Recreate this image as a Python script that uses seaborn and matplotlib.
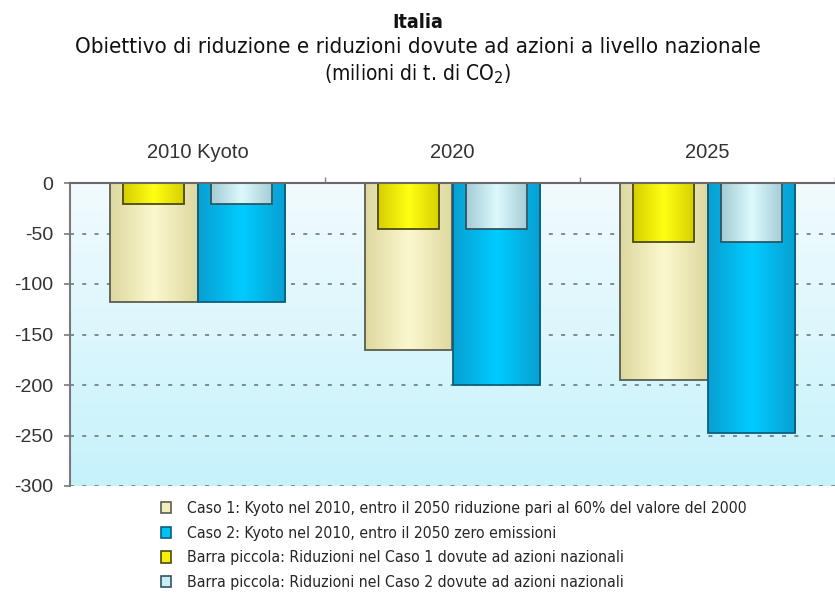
import numpy as np
import pandas as pd
import matplotlib
matplotlib.use("Agg")
import matplotlib.pyplot as plt
import seaborn as sns
from matplotlib.patches import Patch
from matplotlib.colors import LinearSegmentedColormap

categories = ["2010 Kyoto", "2020", "2025"]
caso1 = [-118, -165, -195]
caso2 = [-118, -200, -248]
piccola1 = [-21, -46, -58]
piccola2 = [-21, -46, -58]
yticks = [0, -50, -100, -150, -200, -250, -300]
legend_labels = [
    "Caso 1: Kyoto nel 2010, entro il 2050 riduzione pari al 60% del valore del 2000",
    "Caso 2: Kyoto nel 2010, entro il 2050 zero emissioni",
    "Barra piccola: Riduzioni nel Caso 1 dovute ad azioni nazionali",
    "Barra piccola: Riduzioni nel Caso 2 dovute ad azioni nazionali",
]

sns.set_theme(style="white")
plt.rcParams["font.family"] = ["DejaVu Sans"]

big = pd.DataFrame({
    "cat": categories * 2,
    "caso": ["Caso 1"] * 3 + ["Caso 2"] * 3,
    "val": caso1 + caso2,
})
small = pd.DataFrame({
    "cat": categories * 2,
    "caso": ["Caso 1"] * 3 + ["Caso 2"] * 3,
    "val": piccola1 + piccola2,
})

big_face = ["#f1edbd", "#02c2f2"]
small_face = ["#f4ef05", "#c9eef4"]
edges_big = ["#5c5c50", "#0c5f80"]
edges_small = ["#4d4a10", "#2d5563"]
grad_big = [["#ddd8a0", "#fbf8ce", "#ddd8a0"], ["#089fd2", "#00ccff", "#089fd2"]]
grad_small = [["#d6cf00", "#ffff14", "#d6cf00"], ["#a4cbd4", "#dcfafd", "#a4cbd4"]]

fig = plt.figure(figsize=(8.35, 5.95), dpi=100)
ax = fig.add_axes([70 / 835, 1 - 486 / 595, 765 / 835, 303 / 595])

# background gradient
grad = np.linspace(0, 1, 256).reshape(-1, 1)
bg_cmap = LinearSegmentedColormap.from_list("bg", ["#c6f2fb", "#f2fbfe"])
ax.imshow(grad, extent=[-0.5, 2.5, -300, 0], aspect="auto", cmap=bg_cmap,
          origin="lower", zorder=0)

for y in yticks[1:]:
    ax.axhline(y, color="#6d858d", lw=1.3, ls=(0, (2.2, 4.6)), zorder=1)

sns.barplot(data=big, x="cat", y="val", hue="caso", order=categories,
            palette=big_face, width=0.686, dodge=True, saturation=1,
            errorbar=None, ax=ax, legend=False, zorder=2)
n_big = len(ax.patches)
sns.barplot(data=small, x="cat", y="val", hue="caso", order=categories,
            palette=small_face, width=0.686, gap=0.3, dodge=True, saturation=1,
            errorbar=None, ax=ax, legend=False, zorder=4)

hgrad = np.linspace(0, 1, 256).reshape(1, -1)
for i, p in enumerate(list(ax.patches)):
    if i < n_big:
        k = i // 3
        edge, cols, z = edges_big[k], grad_big[k], 2
    else:
        k = (i - n_big) // 3
        edge, cols, z = edges_small[k], grad_small[k], 4
    p.set_edgecolor("none")
    p.set_zorder(z)
    x0, y0 = p.get_x(), p.get_y()
    w, h = p.get_width(), p.get_height()
    cm = LinearSegmentedColormap.from_list("g%d" % i, cols)
    im = ax.imshow(hgrad, extent=[x0, x0 + w, y0, y0 + h], aspect="auto",
                   cmap=cm, zorder=z + 0.5)
    im.set_clip_path(p)
    outline = plt.Rectangle((x0, y0), w, h, fill=False, edgecolor=edge,
                            lw=1.3, zorder=z + 0.8)
    ax.add_patch(outline)

ax.set_xlim(-0.5, 2.5)
ax.set_ylim(-300, 0)
ax.set_xlabel("")
ax.set_ylabel("")
ax.grid(False)

ax.xaxis.tick_top()
ax.set_xticks(range(3))
ax.set_xticklabels(categories, fontsize=14.5, color="#333333",
                   family="Liberation Sans")
ax.tick_params(axis="x", which="major", length=0, pad=15)
ax.set_xticks([0.5, 1.5, 2.5], minor=True)
ax.tick_params(axis="x", which="minor", length=4, color="#808080", top=True,
               bottom=False, direction="out")

ax.set_yticks(yticks)
ax.set_yticklabels([str(v) for v in yticks], fontsize=14, color="#333333",
                   family="Liberation Sans")
ax.tick_params(axis="y", length=4, color="#808080", left=True, direction="out",
               pad=8)

for s in ["right", "bottom"]:
    ax.spines[s].set_visible(False)
ax.spines["left"].set_color("#7a7a7a")
ax.spines["left"].set_linewidth(1.5)
ax.spines["top"].set_color("#6a6a6a")
ax.spines["top"].set_linewidth(1.5)
ax.spines["top"].set_zorder(6)

fig.text(0.5, 1 - 22 / 595, "Italia", ha="center", va="center",
         fontsize=14, fontweight="bold", color="#111111", fontstretch="condensed")
fig.text(0.5, 1 - 47 / 595,
         "Obiettivo di riduzione e riduzioni dovute ad azioni a livello nazionale",
         ha="center", va="center", fontsize=16, color="#111111",
         fontstretch="condensed")
fig.text(0.5, 1 - 74 / 595, "(milioni di t. di CO$_2$)", ha="center",
         va="center", fontsize=15, color="#111111", fontstretch="condensed")

handles = [
    Patch(facecolor=big_face[0], edgecolor=edges_big[0], lw=1.2),
    Patch(facecolor=big_face[1], edgecolor=edges_big[1], lw=1.2),
    Patch(facecolor=small_face[0], edgecolor=edges_small[0], lw=1.2),
    Patch(facecolor=small_face[1], edgecolor=edges_small[1], lw=1.2),
]
fig.legend(handles, legend_labels, loc="upper left",
           bbox_to_anchor=(161 / 835, 1 - 501 / 595), frameon=False,
           prop={"size": 11.3, "stretch": "condensed"},
           handlelength=0.65, handleheight=0.75,
           handletextpad=1.0, labelspacing=0.62, borderaxespad=0,
           borderpad=0)

fig.savefig("out.png", dpi=100)
